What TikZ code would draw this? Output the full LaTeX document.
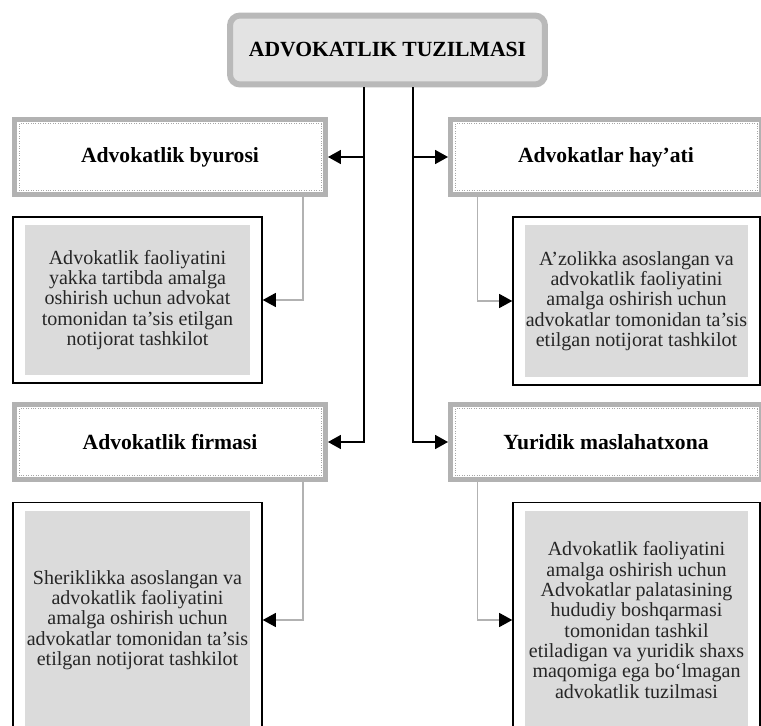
\documentclass[tikz,border=0pt]{standalone}
\usepackage{fontspec}
\setmainfont{Liberation Serif}
\usepackage{tikz}
\usetikzlibrary{arrows.meta, positioning, calc}
\tikzset{
	headbox/.style={rectangle, rounded corners=2mm, minimum width=6.3cm, minimum height=1.38cm, text centered, draw=gray!55, line width=1.2mm, fill=gray!22, font=\fontsize{12.3}{14}\selectfont\bfseries},
	kindbox/.style={rectangle, minimum width=6.22cm, minimum height=1.52cm, text centered, draw=gray!60, line width=1mm, fill=white, font=\fontsize{12.3}{14}\selectfont\bfseries,
		path picture={\draw[gray!70, densely dotted, line width=0.4pt] ([shift={(0.9mm,-0.9mm)}]path picture bounding box.north west) rectangle ([shift={(-0.9mm,0.9mm)}]path picture bounding box.south east);}},
	descbox/.style={rectangle, minimum width=4.98cm, align=center, draw=black, line width=0.9pt, fill=white, text=black!85,
		path picture={\fill[gray!28] ([shift={(2.4mm,-1.6mm)}]path picture bounding box.north west) rectangle ([shift={(-2.4mm,1.6mm)}]path picture bounding box.south east);}},
	spine/.style={-{Triangle[length=2.6mm, width=2.8mm]}, line width=1pt},
	subline/.style={-{Triangle[length=2.6mm, width=2.8mm, color=black]}, draw=gray!60, line width=0.6pt},
}

\begin{document}
\begin{tikzpicture}[x=0.02cm, y=-0.02cm, font=\fontsize{11.4}{11.6}\selectfont]
	\path[use as bounding box, fill=white] (0,0) rectangle (761,726);
	% top
	\node[headbox] (head) at (387.5,50) {ADVOKATLIK TUZILMASI};
	% kinds
	\node[kindbox] (byuro) at (170,157) {Advokatlik byurosi};
	\node[kindbox] (hayat) at (606,157) {Advokatlar hay’ati};
	\node[kindbox] (firma) at (170,442) {Advokatlik firmasi};
	\node[kindbox] (yurid) at (606,442) {Yuridik maslahatxona};
	% descriptions
	\node[descbox, minimum height=3.32cm] (byurodesc) at (137.5,300) {Advokatlik faoliyatini\\yakka tartibda amalga\\oshirish uchun advokat\\tomonidan ta’sis etilgan\\notijorat tashkilot};
	\node[descbox, minimum height=3.36cm, minimum width=4.94cm] (hayatdesc) at (636.5,301) {A’zolikka asoslangan va\\advokatlik faoliyatini\\amalga oshirish uchun\\advokatlar tomonidan ta’sis\\etilgan notijorat tashkilot};
	\node[descbox, minimum height=4.7cm] (firmadesc) at (137.5,620) {Sheriklikka asoslangan va\\advokatlik faoliyatini\\amalga oshirish uchun\\advokatlar tomonidan ta’sis\\etilgan notijorat tashkilot};
	\node[descbox, minimum height=4.7cm, minimum width=4.94cm] (yuriddesc) at (636.5,620) {Advokatlik faoliyatini\\amalga oshirish uchun\\Advokatlar palatasining\\hududiy boshqarmasi\\tomonidan tashkil\\etiladigan va yuridik shaxs\\maqomiga ega bo‘lmagan\\advokatlik tuzilmasi};
	% main connectors
	\draw[spine] ([xshift=-0.47cm]head.south) |- (firma.east);
	\draw[spine] ([xshift=0.51cm]head.south) |- (yurid.west);
	\draw[spine] ([xshift=-0.47cm]head.south |- byuro.east) -- (byuro.east);
	\draw[spine] ([xshift=0.51cm]head.south |- hayat.west) -- (hayat.west);
	% thin connectors
	\draw[subline] ([xshift=2.66cm]byuro.south) |- (byurodesc.east);
	\draw[subline] ([xshift=-2.58cm]hayat.south) |- (hayatdesc.west);
	\draw[subline] ([xshift=2.66cm]firma.south) |- (firmadesc.east);
	\draw[subline] ([xshift=-2.58cm]yurid.south) |- (yuriddesc.west);
\end{tikzpicture}
\end{document}
